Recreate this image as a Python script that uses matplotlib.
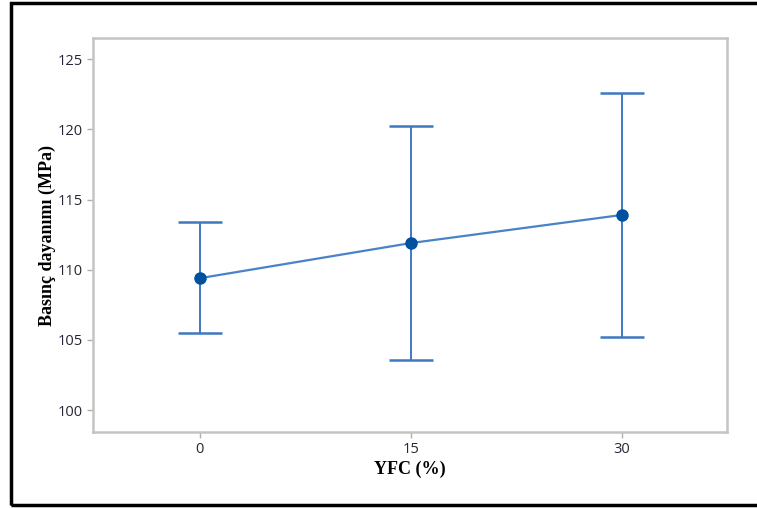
import matplotlib.pyplot as plt
from matplotlib.patches import Rectangle

# degerler
yfc = [0, 15, 30]
ortalama = [109.4, 111.9, 113.9]
ust = [113.4, 120.2, 122.6]
alt = [105.5, 103.6, 105.2]

yerr = [[m - a for m, a in zip(ortalama, alt)], [u - m for u, m in zip(ust, ortalama)]]

fig = plt.figure(figsize=(7.57, 5.08), dpi=100)
ax = fig.add_axes([93/757, 1 - 432/508, (727-93)/757, (432-38)/508])

ax.errorbar(yfc, ortalama, yerr=yerr, fmt='none', ecolor='#3f78c0', elinewidth=1.4,
            capsize=16, capthick=1.8)
ax.plot(yfc, ortalama, '-', color='#4a82c6', lw=1.6)
ax.plot(yfc, ortalama, 'o', color='#0050a0', ms=8)

ax.set_xlim(-7.6, 37.5)
ax.set_ylim(98.45, 126.5)
ax.set_xticks(yfc)
ax.set_yticks([100, 105, 110, 115, 120, 125])

for s in ax.spines.values():
    s.set_color('#c4c4c4')
    s.set_linewidth(1.8)
ax.tick_params(colors='#b0b0b0', length=4, width=1, labelcolor='#262636', labelsize=10.5)
for t in ax.get_xticklabels() + ax.get_yticklabels():
    t.set_family('Open Sans')

ax.set_ylabel("Basınç dayanımı (MPa)", family='Liberation Serif', fontweight='bold',
              fontsize=13, labelpad=1)
ax.set_xlabel("YFC (%)", family='Liberation Serif', fontweight='bold', fontsize=13, labelpad=2)

# dis cerceve
fig.patches.append(Rectangle((11/757, 3/508), 1.0, 1 - 6/508, transform=fig.transFigure,
                             fill=False, edgecolor='black', lw=2.5))

fig.savefig('out.png', dpi=100)
